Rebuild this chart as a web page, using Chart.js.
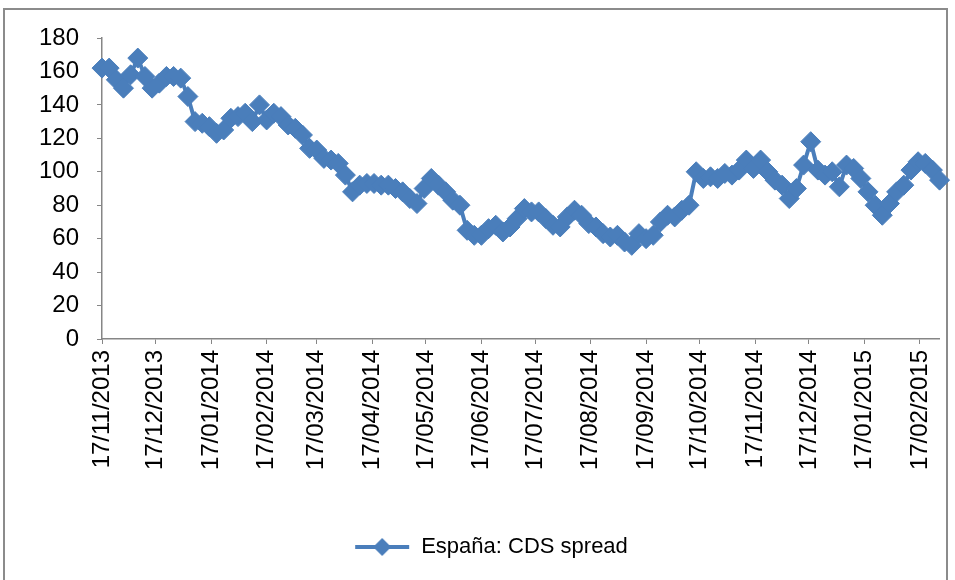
<!DOCTYPE html>
<html>
<head>
<meta charset="utf-8">
<script src="https://cdn.jsdelivr.net/npm/chart.js@4"></script>
<style>
  body { margin: 0; background: #fff; }
  #frame { position: absolute; left: 3px; top: 8px; width: 941px; height: 600px; border: 2px solid #8b8b8b; }
  #wrap { position: absolute; left: 0; top: 0; width: 955px; height: 580px; }
</style>
</head>
<body>
<div id="frame"></div>
<div id="wrap"><canvas id="myChart" width="955" height="580"></canvas></div>
<script>
// fechas (cada 4 días) y valores del CDS
const dates = [
  "17/11/2013","21/11/2013","25/11/2013","29/11/2013","03/12/2013","07/12/2013","11/12/2013","15/12/2013",
  "19/12/2013","23/12/2013","27/12/2013","31/12/2013","04/01/2014","08/01/2014","12/01/2014","16/01/2014",
  "20/01/2014","24/01/2014","28/01/2014","01/02/2014","05/02/2014","09/02/2014","13/02/2014","17/02/2014",
  "21/02/2014","25/02/2014","01/03/2014","05/03/2014","09/03/2014","13/03/2014","17/03/2014","21/03/2014",
  "25/03/2014","29/03/2014","02/04/2014","06/04/2014","10/04/2014","14/04/2014","18/04/2014","22/04/2014",
  "26/04/2014","30/04/2014","04/05/2014","08/05/2014","12/05/2014","16/05/2014","20/05/2014","24/05/2014",
  "28/05/2014","01/06/2014","05/06/2014","09/06/2014","13/06/2014","17/06/2014","21/06/2014","25/06/2014",
  "29/06/2014","03/07/2014","07/07/2014","11/07/2014","15/07/2014","19/07/2014","23/07/2014","27/07/2014",
  "31/07/2014","04/08/2014","08/08/2014","12/08/2014","16/08/2014","20/08/2014","24/08/2014","28/08/2014",
  "01/09/2014","05/09/2014","09/09/2014","13/09/2014","17/09/2014","21/09/2014","25/09/2014","29/09/2014",
  "03/10/2014","07/10/2014","11/10/2014","15/10/2014","19/10/2014","23/10/2014","27/10/2014","31/10/2014",
  "04/11/2014","08/11/2014","12/11/2014","16/11/2014","20/11/2014","24/11/2014","28/11/2014","02/12/2014",
  "06/12/2014","10/12/2014","14/12/2014","18/12/2014","22/12/2014","26/12/2014","30/12/2014","03/01/2015",
  "07/01/2015","11/01/2015","15/01/2015","19/01/2015","23/01/2015","27/01/2015","31/01/2015","04/02/2015",
  "08/02/2015","12/02/2015","16/02/2015","20/02/2015","24/02/2015","28/02/2015"
];
const cdsSpread = [
  162,162,155,150,158,168,157,150,
  153,157,157,156,145,130,129,127,
  123,125,132,133,135,130,140,131,
  135,133,128,126,122,114,113,108,
  107,105,98,88,92,93,93,92,
  92,90,88,84,81,90,96,92,
  88,83,80,65,62,62,66,68,
  64,67,72,78,76,76,72,68,
  67,73,77,74,69,67,63,61,
  62,58,56,63,60,62,70,74,
  73,77,80,100,96,97,96,99,
  98,101,107,102,107,100,95,92,
  84,90,104,118,101,98,100,91,
  104,102,96,88,80,74,81,88,
  92,101,106,105,101,95
];
const tickLabels = [
  "17/11/2013","17/12/2013","17/01/2014","17/02/2014","17/03/2014","17/04/2014","17/05/2014","17/06/2014",
  "17/07/2014","17/08/2014","17/09/2014","17/10/2014","17/11/2014","17/12/2014","17/01/2015","17/02/2015"
];
const yTicks = [0, 20, 40, 60, 80, 100, 120, 140, 160, 180];
const seriesName = "España: CDS spread";

const blue = "#4a7ebb";
const axisGray = "#868686";

function dayOf(s) {
  const [d, m, y] = s.split("/").map(Number);
  return (Date.UTC(y, m - 1, d) - Date.UTC(2013, 10, 17)) / 864e5;
}

const points = dates.map((s, i) => ({ x: dayOf(s), y: cdsSpread[i] }));
const tickDays = tickLabels.map(dayOf);

// muestra de leyenda: línea con rombo (con hueco a la izquierda para centrarla como en Excel)
const legendIcon = document.createElement("canvas");
legendIcon.width = 96;
legendIcon.height = 20;
{
  const c = legendIcon.getContext("2d");
  c.strokeStyle = blue;
  c.lineWidth = 4;
  c.beginPath(); c.moveTo(41, 10); c.lineTo(95, 10); c.stroke();
  c.fillStyle = blue;
  c.beginPath(); c.moveTo(68, 1); c.lineTo(77, 10); c.lineTo(68, 19); c.lineTo(59, 10); c.closePath(); c.fill();
}

const chart = new Chart(document.getElementById("myChart"), {
  type: "line",
  data: {
    datasets: [{
      label: seriesName,
      data: points,
      borderColor: blue,
      backgroundColor: blue,
      borderWidth: 4,
      pointStyle: "rectRot",
      pointRadius: 10,
      pointBorderWidth: 1,
      pointBackgroundColor: blue,
      pointBorderColor: blue,
      tension: 0,
      clip: false
    }]
  },
  options: {
    responsive: false,
    animation: false,
    layout: { padding: { left: 0, top: 38, right: 13, bottom: 12 } },
    plugins: {
      tooltip: { enabled: false },
      legend: {
        position: "bottom",
        labels: {
          usePointStyle: true,
          pointStyleWidth: 96,
          padding: 10,
          color: "#1a1a1a",
          font: { family: "'Liberation Sans', Arial, sans-serif", size: 22 },
          generateLabels: () => [{ text: seriesName, pointStyle: legendIcon, fillStyle: blue, strokeStyle: blue, lineWidth: 0, datasetIndex: 0 }]
        }
      }
    },
    scales: {
      x: {
        type: "linear",
        min: 0,
        max: 468,
        afterBuildTicks: s => { s.ticks = tickDays.map(v => ({ value: v })); },
        afterFit: s => { s.height = 187; },
        ticks: {
          autoSkip: false,
          minRotation: 90,
          maxRotation: 90,
          padding: 6,
          color: "#000",
          font: { family: "'Liberation Sans', Arial, sans-serif", size: 24 },
          callback: (v, i) => tickLabels[i]
        },
        grid: { drawOnChartArea: false, drawTicks: true, tickLength: 5, color: axisGray },
        border: { display: true, color: axisGray, width: 1.5 }
      },
      y: {
        min: 0,
        max: 180,
        afterBuildTicks: s => { s.ticks = yTicks.map(v => ({ value: v })); },
        afterFit: s => { s.width = 102; },
        ticks: {
          padding: 18,
          color: "#000",
          font: { family: "'Liberation Sans', Arial, sans-serif", size: 24 }
        },
        grid: { drawOnChartArea: false, drawTicks: true, tickLength: 5, color: axisGray },
        border: { display: true, color: axisGray, width: 1.5 }
      }
    }
  }
});
</script>
</body>
</html>
